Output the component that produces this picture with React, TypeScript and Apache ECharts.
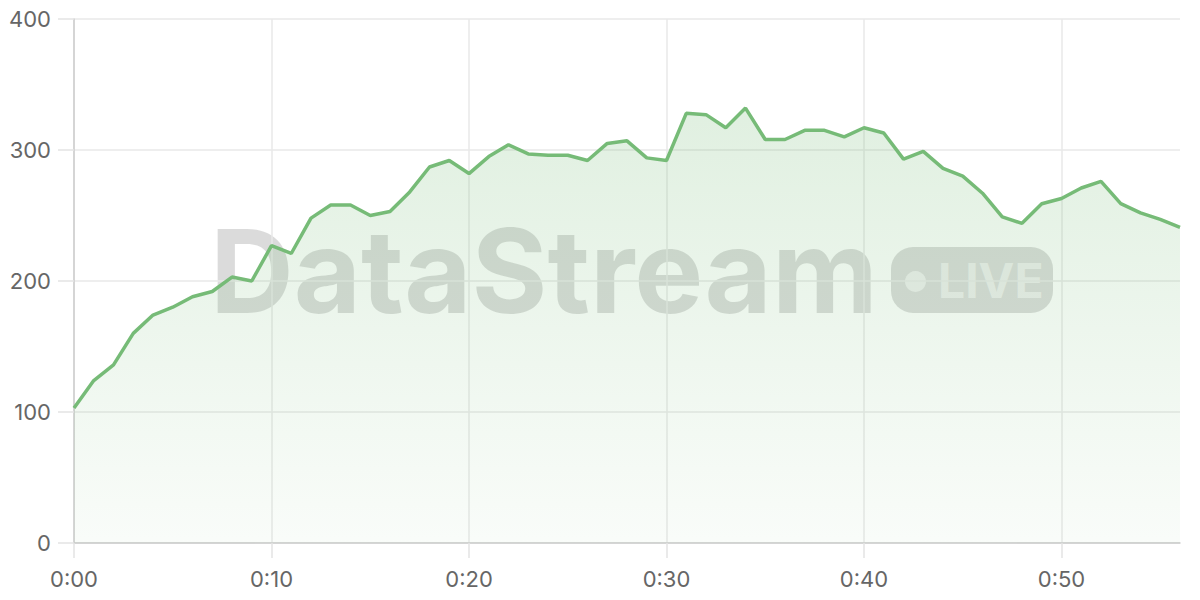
import React, { useEffect, useRef } from 'react'
import * as echarts from 'echarts'

// minute marks along the x axis
const minutes = [
  '0:00', '0:01', '0:02', '0:03', '0:04', '0:05', '0:06', '0:07', '0:08', '0:09',
  '0:10', '0:11', '0:12', '0:13', '0:14', '0:15', '0:16', '0:17', '0:18', '0:19',
  '0:20', '0:21', '0:22', '0:23', '0:24', '0:25', '0:26', '0:27', '0:28', '0:29',
  '0:30', '0:31', '0:32', '0:33', '0:34', '0:35', '0:36', '0:37', '0:38', '0:39',
  '0:40', '0:41', '0:42', '0:43', '0:44', '0:45', '0:46', '0:47', '0:48', '0:49',
  '0:50', '0:51', '0:52', '0:53', '0:54', '0:55', '0:56',
]

// values
const values = [
  103, 124, 136, 160, 174, 180, 188, 192, 203, 200,
  227, 221, 248, 258, 258, 250, 253, 268, 287, 292,
  282, 295, 304, 297, 296, 296, 292, 305, 307, 294,
  292, 328, 327, 317, 332, 308, 308, 315, 315, 310,
  317, 313, 293, 299, 286, 280, 267, 249, 244, 259,
  263, 271, 276, 259, 252, 247, 241,
]

const yTicks = { min: 0, max: 400, interval: 100 }

const lineColor = '#76bb77'
const gridColor = '#e9e9e9'
const labelColor = '#666666'
const markColor = 'rgba(0, 0, 0, 0.14)'

export default function App() {
  const chartRef = useRef<HTMLDivElement>(null)

  useEffect(() => {
    if (!chartRef.current) return
    const chart = echarts.init(chartRef.current, null, { renderer: 'svg' })

    // labels, ticks and grid only every ten minutes
    const every10 = (i: number) => i % 10 === 0

    chart.setOption({
      animation: false,
      backgroundColor: '#ffffff',
      grid: { left: 74, right: 20, top: 19, bottom: 57 },
      xAxis: {
        type: 'category',
        data: minutes,
        boundaryGap: false,
        axisLine: { lineStyle: { color: '#cccccc', width: 1.5 } },
        axisTick: {
          show: true,
          length: 15,
          interval: (i: number) => every10(i),
          lineStyle: { color: '#e3e3e3', width: 1.5 },
        },
        axisLabel: {
          interval: (i: number) => every10(i),
          color: labelColor,
          fontFamily: 'Inter',
          fontSize: 22,
          margin: 25,
        },
        splitLine: {
          show: true,
          interval: (i: number) => every10(i),
          lineStyle: { color: gridColor, width: 1.5 },
        },
      },
      yAxis: {
        type: 'value',
        min: yTicks.min,
        max: yTicks.max,
        interval: yTicks.interval,
        axisLine: { show: true, lineStyle: { color: '#cccccc', width: 1.5 } },
        axisTick: { show: true, length: 16, lineStyle: { color: '#e3e3e3', width: 1.5 } },
        axisLabel: {
          color: labelColor,
          fontFamily: 'Inter',
          fontSize: 22,
          margin: 23,
        },
        splitLine: { lineStyle: { color: gridColor, width: 1.5 } },
      },
      graphic: [
        {
          type: 'text',
          z: 0,
          x: 210,
          y: 271,
          style: {
            text: 'DataStream',
            font: 'bold 116px Inter',
            fill: markColor,
            verticalAlign: 'middle',
          },
        },
        {
          type: 'rect',
          z: 0,
          shape: { x: 891, y: 247, width: 162, height: 66, r: 22 },
          style: { fill: markColor },
        },
        {
          type: 'circle',
          z: 0,
          shape: { cx: 915.5, cy: 281.5, r: 10.5 },
          style: { fill: 'rgba(255, 255, 255, 0.55)' },
        },
        {
          type: 'text',
          z: 0,
          x: 938,
          y: 280,
          style: {
            text: 'LIVE',
            font: 'bold 48px Inter',
            fill: 'rgba(255, 255, 255, 0.55)',
            verticalAlign: 'middle',
          },
        },
      ],
      series: [
        {
          type: 'line',
          data: values,
          symbol: 'none',
          lineStyle: { color: lineColor, width: 3.5 },
          areaStyle: {
            color: {
              type: 'linear',
              x: 0,
              y: 0,
              x2: 0,
              y2: 1,
              colorStops: [
                { offset: 0, color: 'rgba(118, 187, 119, 0.32)' },
                { offset: 1, color: 'rgba(118, 187, 119, 0.06)' },
              ],
            },
          },
        },
      ],
    })

    return () => {
      chart.dispose()
    }
  }, [])

  return (
    <div
      ref={chartRef}
      style={{ position: 'fixed', left: 0, top: 0, width: 1200, height: 600, background: '#fff' }}
    />
  )
}
